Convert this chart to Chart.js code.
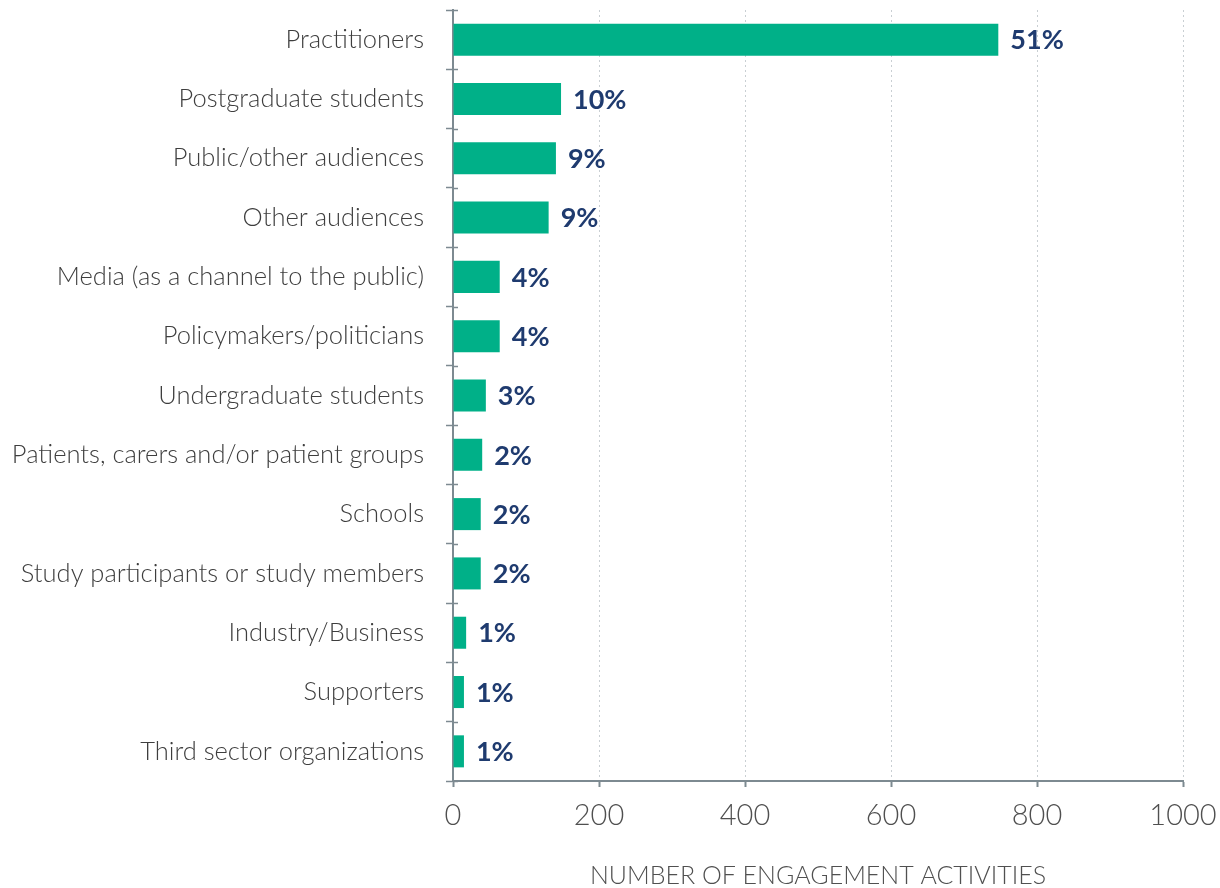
<!DOCTYPE html>
<html lang="en">
<head>
    <meta charset="UTF-8">
    <title>Engagement activities by audience</title>
    <script src="https://cdn.jsdelivr.net/npm/chart.js"></script>
    <style>
        html, body {
            margin: 0;
            padding: 0;
            background: #ffffff;
        }
        #wrap {
            width: 1220px;
            height: 888px;
        }
    </style>
</head>
<body>
    <div id="wrap">
        <canvas id="audienceChart"></canvas>
    </div>

    <script>
        const audiences = [
            'Practitioners',
            'Postgraduate students',
            'Public/other audiences',
            'Other audiences',
            'Media (as a channel to the public)',
            'Policymakers/politicians',
            'Undergraduate students',
            'Patients, carers and/or patient groups',
            'Schools',
            'Study participants or study members',
            'Industry/Business',
            'Supporters',
            'Third sector organizations'
        ];
        const activityCounts = [747, 148, 141, 131, 64, 64, 45, 40, 38, 38, 18, 15, 15];
        const shareLabels = ['51%', '10%', '9%', '9%', '4%', '4%', '3%', '2%', '2%', '2%', '1%', '1%', '1%'];
        const xTicks = [0, 200, 400, 600, 800, 1000];

        const fontFamily = 'Lato, "Open Sans", sans-serif';
        const axisGrey = '#7d8a91';

        // percent labels at the end of each bar
        const shareLabelPlugin = {
            id: 'shareLabels',
            afterDatasetsDraw(chart) {
                const ctx = chart.ctx;
                const meta = chart.getDatasetMeta(0);
                ctx.save();
                ctx.font = 'bold 27px ' + fontFamily;
                ctx.fillStyle = '#1f3b6f';
                ctx.textAlign = 'left';
                ctx.textBaseline = 'middle';
                meta.data.forEach((bar, i) => {
                    ctx.fillText(shareLabels[i], bar.x + 12, bar.y + 1);
                });
                ctx.restore();
            }
        };

        // small cross ticks on the right side of the category axis
        const crossTickPlugin = {
            id: 'crossTicks',
            afterDraw(chart) {
                const y = chart.scales.y;
                const ctx = chart.ctx;
                const band = (y.bottom - y.top) / audiences.length;
                ctx.save();
                ctx.strokeStyle = axisGrey;
                ctx.lineWidth = 1.5;
                for (let i = 0; i <= audiences.length; i++) {
                    const py = Math.round(y.top + band * i) + 0.5;
                    ctx.beginPath();
                    ctx.moveTo(y.right, py);
                    ctx.lineTo(y.right + 5, py);
                    ctx.stroke();
                }
                ctx.restore();
            }
        };

        const ctx = document.getElementById('audienceChart').getContext('2d');
        new Chart(ctx, {
            type: 'bar',
            data: {
                labels: audiences,
                datasets: [{
                    data: activityCounts,
                    backgroundColor: '#00b088',
                    borderWidth: 0,
                    barPercentage: 0.54,
                    categoryPercentage: 1.0
                }]
            },
            options: {
                indexAxis: 'y',
                responsive: true,
                maintainAspectRatio: false,
                animation: false,
                layout: {
                    padding: { top: 10, right: 37, bottom: 0, left: 0 }
                },
                plugins: {
                    legend: { display: false },
                    tooltip: { enabled: false }
                },
                scales: {
                    x: {
                        min: 0,
                        max: 1000,
                        afterBuildTicks: (scale) => {
                            scale.ticks = xTicks.map(v => ({ value: v }));
                        },
                        afterFit: (scale) => {
                            scale.height = 107;
                            scale.paddingLeft = 0;
                            scale.paddingRight = 0;
                        },
                        grid: {
                            color: (c) => c.tick && c.tick.value === 0 ? 'rgba(0,0,0,0)' : '#c9cfd3',
                            lineWidth: 1,
                            tickLength: 6,
                            tickColor: axisGrey,
                            tickWidth: 2
                        },
                        border: {
                            color: axisGrey,
                            width: 2,
                            dash: [2, 3]
                        },
                        ticks: {
                            color: '#505050',
                            font: { family: fontFamily, size: 29, weight: '300' },
                            padding: 11,
                            callback: (v) => String(v)
                        },
                        title: {
                            display: true,
                            text: 'NUMBER OF ENGAGEMENT ACTIVITIES',
                            color: '#505050',
                            font: { family: fontFamily, size: 25, weight: '300', lineHeight: 1 },
                            padding: { top: 17, bottom: 0 }
                        }
                    },
                    y: {
                        afterFit: (scale) => {
                            scale.width = 453;
                            scale.paddingTop = 0;
                            scale.paddingBottom = 0;
                        },
                        grid: {
                            offset: true,
                            drawOnChartArea: false,
                            tickLength: 7,
                            tickColor: axisGrey,
                            tickWidth: 1.5
                        },
                        border: {
                            color: axisGrey,
                            width: 2
                        },
                        ticks: {
                            color: '#3e3e3e',
                            font: { family: fontFamily, size: 25.5, weight: '300' },
                            padding: 22
                        }
                    }
                }
            },
            plugins: [shareLabelPlugin, crossTickPlugin]
        });
    </script>
</body>
</html>
